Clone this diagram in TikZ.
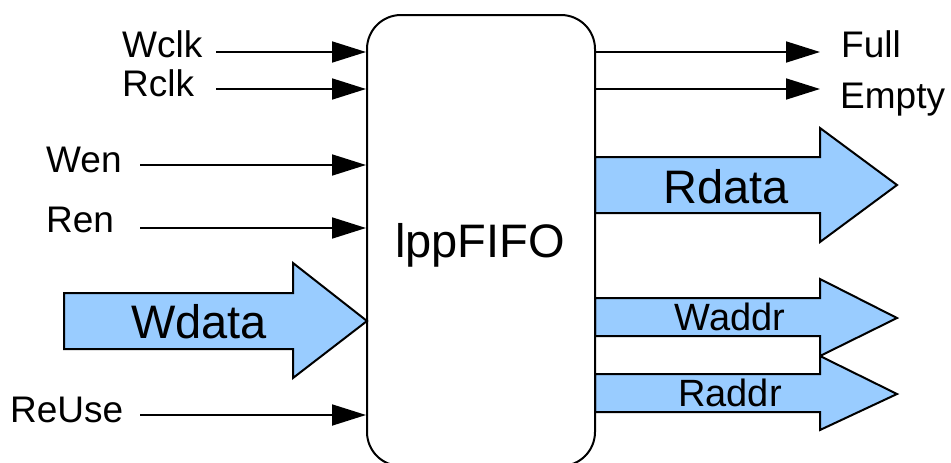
\documentclass[tikz,border=0pt]{standalone}
\usepackage{fontspec}
\setmainfont{Liberation Sans}
\usetikzlibrary{arrows.meta}
\definecolor{fatblue}{HTML}{99CCFF}
\begin{document}
\begin{tikzpicture}[x=1pt,y=-1pt,
 sig/.style={line width=1.8pt,-{Triangle[length=34pt,width=21pt]}},
 fat/.style={draw=black,line width=2pt,fill=fatblue,line join=miter},
 small/.style={font=\fontsize{37}{40}\selectfont,inner sep=0pt},
 big/.style={font=\fontsize{47}{52}\selectfont,inner sep=0pt},
 mid/.style={font=\fontsize{38}{40}\selectfont,inner sep=0pt}]
\useasboundingbox (0,0) rectangle (951,463);
\clip (0,0) rectangle (951,463);
% fat arrows
\draw[fat] (64,293) -- (293,293) -- (293,263) -- (367,321) -- (293,378) -- (293,349) -- (64,349) -- cycle;
\draw[fat] (595,157) -- (820,157) -- (820,128) -- (897,185) -- (820,242) -- (820,213) -- (595,213) -- cycle;
\draw[fat] (595,298) -- (820,298) -- (820,279) -- (897,318) -- (820,356) -- (820,336) -- (595,336) -- cycle;
\draw[fat] (595,374) -- (820,374) -- (820,356) -- (897,394) -- (820,430) -- (820,412) -- (595,412) -- cycle;
% box
\node[draw,line width=2pt,rounded corners=34pt,minimum width=228pt,minimum height=451pt,inner sep=0pt] (fifo) at (481,240.5) {};
\node[big,anchor=base] (name) at (480,257) {lppFIFO};
% labels
\node[small,anchor=base west] (wclk) at (122,57) {Wclk};
\node[small,anchor=base west] (rclk) at (122,96) {Rclk};
\node[small,anchor=base west] (wen) at (46,172) {Wen};
\node[small,anchor=base west] (ren) at (46,232) {Ren};
\node[small,anchor=base west] (reuse) at (10,422) {ReUse};
\node[small,anchor=base west] (full) at (841,57) {Full};
\node[small,anchor=base west] (empty) at (840,108) {Empty};
\node[big,anchor=base] (wdata) at (199,338) {Wdata};
\node[big,anchor=base] (rdata) at (726,203) {Rdata};
\node[mid,anchor=base] (waddr) at (730,330) {Waddr};
\node[mid,anchor=base] (raddr) at (730,406) {Raddr};
% signal arrows
\coordinate (wclkS) at (216,52);
\coordinate (rclkS) at (216,89);
\coordinate (wenS) at (140,165);
\coordinate (renS) at (140,228);
\coordinate (reuseS) at (140,415);
\coordinate (fullE) at (820,52);
\coordinate (emptyE) at (820,89);
\draw[sig] (wclkS) -- (wclkS -| fifo.west);
\draw[sig] (rclkS) -- (rclkS -| fifo.west);
\draw[sig] (wenS) -- (wenS -| fifo.west);
\draw[sig] (renS) -- (renS -| fifo.west);
\draw[sig] (reuseS) -- (reuseS -| fifo.west);
\draw[sig] (fullE -| fifo.east) -- (fullE);
\draw[sig] (emptyE -| fifo.east) -- (emptyE);
\end{tikzpicture}
\end{document}
